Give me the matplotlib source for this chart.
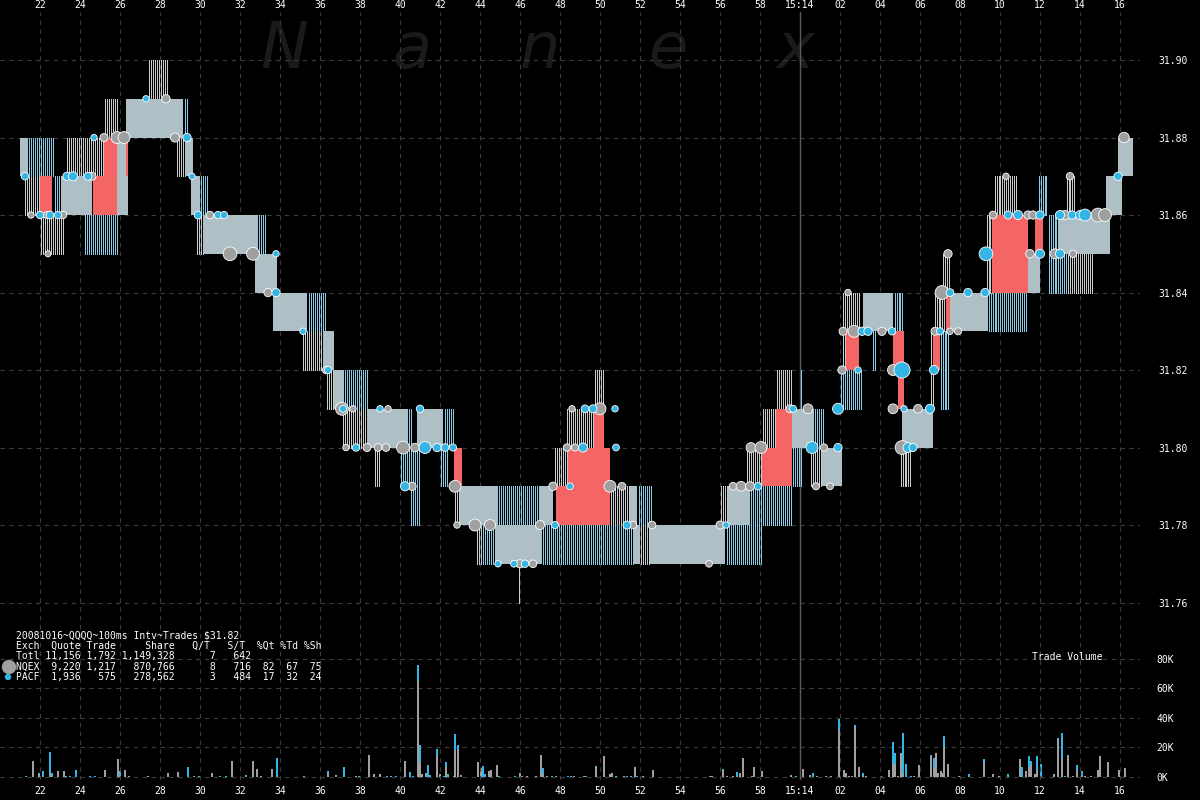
import numpy as np
import matplotlib.pyplot as plt
from matplotlib.patches import Rectangle, Ellipse
from matplotlib.collections import LineCollection

# time axis = seconds after 15:13:00, 100ms intervals
# quote blocks: (start, end, bid/low, ask/high)
quote_blocks = [
    (21.0, 21.4, 31.87, 31.88), (23.05, 24.6, 31.86, 31.87), (25.85, 26.4, 31.86, 31.88),
    (26.3, 29.15, 31.88, 31.89), (29.25, 29.65, 31.87, 31.88), (29.55, 30.0, 31.86, 31.87),
    (30.15, 32.9, 31.85, 31.86), (32.75, 33.85, 31.84, 31.85), (33.65, 35.35, 31.83, 31.84),
    (36.15, 36.7, 31.82, 31.83), (36.7, 37.2, 31.81, 31.82), (38.35, 40.4, 31.80, 31.81),
    (40.85, 42.15, 31.80, 31.81), (43.0, 44.9, 31.78, 31.79), (47.0, 47.65, 31.78, 31.79),
    (44.75, 47.1, 31.77, 31.78), (51.65, 52.0, 31.77, 31.78), (52.5, 56.25, 31.77, 31.78),
    (51.5, 51.85, 31.78, 31.79), (56.4, 57.5, 31.78, 31.79), (59.6, 60.7, 31.80, 31.81),
    (61.1, 62.1, 31.79, 31.80), (63.15, 64.65, 31.83, 31.84), (65.1, 66.65, 31.80, 31.81),
    (67.5, 69.4, 31.83, 31.84), (71.4, 72.0, 31.84, 31.85), (72.9, 75.5, 31.85, 31.86),
    (75.3, 76.1, 31.86, 31.87), (75.9, 76.65, 31.87, 31.88),
]
# quote flicker ranges (NQEX grey, PACF blue)
nq_flicker = [
    (21.2, 22.0, 31.86, 31.87), (22.0, 23.15, 31.85, 31.86), (23.3, 25.15, 31.87, 31.88),
    (25.2, 25.85, 31.88, 31.89), (27.4, 28.35, 31.89, 31.90), (28.8, 29.25, 31.87, 31.88),
    (29.8, 30.15, 31.85, 31.86), (35.1, 36.15, 31.82, 31.83), (36.3, 36.7, 31.81, 31.82),
    (37.1, 38.35, 31.80, 31.81), (38.7, 39.0, 31.79, 31.80), (42.7, 43.0, 31.78, 31.79),
    (43.8, 44.05, 31.77, 31.78), (45.85, 45.95, 31.76, 31.77), (47.7, 48.4, 31.79, 31.80),
    (48.3, 49.7, 31.80, 31.81), (49.7, 50.15, 31.81, 31.82), (50.5, 51.5, 31.78, 31.79),
    (52.0, 52.5, 31.77, 31.78), (56.0, 56.4, 31.78, 31.79), (57.3, 58.1, 31.79, 31.80),
    (58.1, 58.8, 31.80, 31.81), (58.8, 59.55, 31.81, 31.82), (60.5, 61.1, 31.79, 31.80),
    (62.1, 62.3, 31.82, 31.84), (62.2, 63.0, 31.83, 31.84), (65.0, 65.55, 31.79, 31.80),
    (66.5, 66.65, 31.81, 31.83), (66.65, 67.3, 31.83, 31.84), (67.1, 67.5, 31.84, 31.85),
    (69.25, 69.7, 31.84, 31.86), (69.65, 70.9, 31.86, 31.87), (73.25, 73.75, 31.86, 31.87),
    (72.4, 74.7, 31.84, 31.85),
]
pa_flicker = [
    (21.4, 22.65, 31.87, 31.88), (22.65, 23.05, 31.86, 31.87), (24.15, 25.85, 31.85, 31.86),
    (29.15, 29.4, 31.88, 31.89), (30.0, 30.4, 31.86, 31.87), (32.9, 33.25, 31.85, 31.86),
    (35.35, 36.3, 31.83, 31.84), (37.2, 38.4, 31.81, 31.82), (40.4, 40.6, 31.80, 31.81),
    (42.15, 42.7, 31.80, 31.81), (40.0, 41.0, 31.79, 31.80), (40.5, 41.0, 31.78, 31.79),
    (42.0, 42.35, 31.79, 31.80), (44.9, 47.0, 31.78, 31.79), (44.05, 44.75, 31.77, 31.78),
    (47.1, 51.65, 31.77, 31.78), (51.85, 52.6, 31.78, 31.79), (56.25, 58.1, 31.77, 31.78),
    (57.5, 59.6, 31.78, 31.79), (59.6, 60.1, 31.79, 31.80), (60.7, 61.2, 31.80, 31.81),
    (62.0, 63.1, 31.81, 31.82), (63.6, 63.8, 31.82, 31.83), (64.65, 65.2, 31.83, 31.84),
    (67.0, 67.5, 31.81, 31.83), (69.4, 71.4, 31.83, 31.84), (71.85, 72.4, 31.86, 31.87),
    (72.35, 73.35, 31.84, 31.86), (60.0, 60.05, 31.81, 31.82), (61.95, 62.0, 31.80, 31.81),
    (52.55, 52.6, 31.79, 31.80), (74.65, 74.7, 31.84, 31.87),
]
# locked / crossed quotes
crossed = [
    (22.0, 22.6, 31.86, 31.87), (24.65, 25.85, 31.86, 31.87), (25.2, 25.85, 31.87, 31.88),
    (26.3, 26.4, 31.87, 31.88), (42.7, 43.1, 31.79, 31.80), (47.8, 50.5, 31.78, 31.79),
    (48.4, 50.5, 31.79, 31.80), (49.7, 50.2, 31.80, 31.81), (58.1, 59.6, 31.79, 31.80),
    (58.8, 59.6, 31.80, 31.81), (62.3, 62.95, 31.82, 31.83), (64.65, 65.2, 31.82, 31.83),
    (64.9, 65.2, 31.81, 31.82), (66.65, 67.0, 31.82, 31.83), (67.3, 67.5, 31.83, 31.84),
    (69.6, 71.4, 31.84, 31.86), (71.75, 72.15, 31.85, 31.86),
]

# trades: (time, price, shares)
nq_trades = [
    (24.6, 31.87, 800), (21.55, 31.86, 300), (22.35, 31.86, 500), (23.15, 31.86, 600),
    (22.4, 31.85, 200), (25.2, 31.88, 800), (25.85, 31.88, 2500), (26.2, 31.88, 2500),
    (28.75, 31.88, 1200), (28.3, 31.89, 900), (30.5, 31.86, 600), (31.5, 31.85, 3500),
    (32.65, 31.85, 3000), (33.4, 31.84, 900), (36.3, 31.82, 600), (37.1, 31.81, 3000),
    (37.65, 31.81, 300), (39.4, 31.81, 300), (37.3, 31.80, 300), (38.35, 31.80, 800),
    (38.9, 31.80, 700), (39.3, 31.80, 700), (40.15, 31.80, 3000), (40.75, 31.80, 1000),
    (40.6, 31.79, 900), (42.75, 31.79, 2500), (42.85, 31.78, 300), (43.75, 31.78, 2500),
    (44.5, 31.78, 2000), (47.0, 31.78, 1200), (46.0, 31.77, 900), (46.65, 31.77, 700),
    (48.6, 31.81, 300), (50.0, 31.81, 2500), (48.35, 31.80, 600), (48.75, 31.80, 500),
    (47.65, 31.79, 900), (50.5, 31.79, 2500), (51.1, 31.79, 700), (51.65, 31.78, 600),
    (52.6, 31.78, 700), (55.45, 31.77, 400), (56.0, 31.78, 800), (56.65, 31.79, 700),
    (57.05, 31.79, 1500), (57.5, 31.79, 1200), (57.55, 31.80, 1500), (58.05, 31.80, 2500),
    (59.5, 31.81, 800), (60.4, 31.81, 1500), (61.2, 31.80, 600), (60.8, 31.79, 500),
    (61.5, 31.79, 400), (62.4, 31.84, 300), (62.15, 31.83, 800), (62.7, 31.83, 2500),
    (64.1, 31.83, 900), (62.1, 31.82, 900), (64.65, 31.82, 2000), (64.65, 31.81, 1500),
    (65.9, 31.81, 1000), (65.1, 31.80, 3500), (67.1, 31.84, 3500), (66.75, 31.83, 800),
    (67.5, 31.83, 300), (67.9, 31.83, 500), (67.4, 31.85, 900), (69.65, 31.86, 700),
    (71.4, 31.86, 900), (71.65, 31.86, 900), (73.25, 31.86, 1200), (74.9, 31.86, 3500),
    (75.25, 31.86, 3000), (70.3, 31.87, 300), (73.5, 31.87, 600), (71.5, 31.85, 1000),
    (72.75, 31.85, 1500), (73.65, 31.85, 600), (76.2, 31.88, 1800),
]
pa_trades = [
    (21.25, 31.87, 600), (23.35, 31.87, 900), (23.65, 31.87, 1200), (24.4, 31.87, 800),
    (22.0, 31.86, 600), (22.5, 31.86, 700), (22.9, 31.86, 600), (24.7, 31.88, 300),
    (29.35, 31.88, 900), (27.3, 31.89, 300), (29.6, 31.87, 300), (29.9, 31.86, 700),
    (30.9, 31.86, 600), (31.2, 31.86, 600), (33.8, 31.85, 300), (33.8, 31.84, 900),
    (35.15, 31.83, 300), (36.4, 31.82, 500), (37.15, 31.81, 500), (39.0, 31.81, 300),
    (41.0, 31.81, 600), (37.8, 31.80, 600), (41.25, 31.80, 2500), (41.85, 31.80, 900),
    (42.25, 31.80, 700), (42.65, 31.80, 500), (40.25, 31.79, 1200), (47.75, 31.78, 500),
    (44.9, 31.77, 300), (45.7, 31.77, 400), (46.25, 31.77, 600), (49.25, 31.81, 700),
    (49.65, 31.81, 800), (50.75, 31.81, 300), (49.15, 31.80, 1200), (50.8, 31.80, 400),
    (48.5, 31.79, 400), (51.35, 31.78, 800), (56.3, 31.78, 300), (57.9, 31.79, 600),
    (59.65, 31.81, 500), (60.6, 31.80, 2500), (61.9, 31.80, 900), (61.9, 31.81, 2000),
    (63.1, 31.83, 900), (63.4, 31.83, 900), (64.6, 31.83, 600), (62.9, 31.82, 300),
    (65.1, 31.82, 5000), (65.2, 31.81, 300), (66.5, 31.81, 1200), (65.4, 31.80, 1500),
    (65.65, 31.80, 800), (66.7, 31.82, 1200), (67.5, 31.84, 700), (67.0, 31.83, 500),
    (69.3, 31.85, 3500), (68.4, 31.84, 900), (69.25, 31.84, 900), (70.4, 31.86, 800),
    (70.9, 31.86, 1200), (72.0, 31.86, 900), (73.0, 31.86, 1200), (73.6, 31.86, 900),
    (74.0, 31.86, 1200), (74.25, 31.86, 2500), (75.9, 31.87, 900), (72.0, 31.85, 1200),
    (73.0, 31.85, 1200),
]

# volume per 100ms interval, thousands of shares: (time, NQEX, PACF)
volume = [
    (21.25, 0, 1), (21.6, 10.6, 0), (21.9, 2, 1), (22.1, 0, 4), (22.45, 3, 14),
    (22.55, 0, 3), (22.85, 4, 0), (23.15, 4, 0), (23.25, 0, 1), (23.45, 0, 1),
    (23.75, 0, 5), (24.45, 0, 1), (24.7, 0, 1), (25.2, 5, 0), (25.85, 12, 0),
    (25.95, 0, 4), (26.2, 5, 0), (26.4, 0.5, 0), (27.35, 0.5, 0), (28.35, 3, 0),
    (28.85, 3.5, 0), (29.35, 0, 7), (29.65, 0.5, 0), (29.9, 0, 1), (30.55, 3, 0),
    (30.95, 0, 0.5), (31.25, 0, 0.5), (31.55, 11, 0), (32.25, 0, 1.5), (32.6, 10.6, 0),
    (32.8, 5.6, 0), (33.0, 0.5, 0), (33.55, 5.6, 0), (33.8, 0, 13), (35.15, 0, 0.5),
    (36.35, 3, 1), (36.75, 1.5, 0), (37.15, 0, 7), (37.75, 0.5, 0), (37.9, 0, 0.5),
    (38.4, 15, 0), (38.65, 2, 0), (38.95, 2, 0), (39.3, 0, 0.5), (39.5, 0.5, 0),
    (39.75, 0, 0.5), (40.2, 11, 0), (40.45, 0, 3.6), (40.6, 0, 0.5), (40.85, 65, 11),
    (40.95, 10, 12), (41.05, 2, 0), (41.25, 3, 0), (41.35, 0, 8), (41.45, 0, 1.5),
    (41.8, 14, 5), (41.95, 2, 0), (42.15, 0, 0.5), (42.25, 7, 3), (42.35, 0, 2),
    (42.65, 0.5, 0), (42.7, 18, 11), (42.85, 18, 4), (43.0, 1.6, 0), (43.85, 10, 0),
    (44.0, 6, 0), (44.1, 0, 7.7), (44.2, 0, 2), (44.4, 4, 0), (44.5, 5, 0),
    (44.8, 8, 0), (44.9, 0, 0.5), (45.7, 0, 0.5), (45.95, 3, 0), (46.05, 0.5, 0),
    (46.3, 0.5, 0), (46.75, 0.5, 0), (47.0, 15, 0), (47.1, 2, 4), (47.3, 0.5, 0),
    (47.55, 0, 0.5), (47.75, 0.5, 0), (48.35, 0, 0.5), (48.5, 0, 0.5), (48.65, 0.5, 0.5),
    (49.15, 0.5, 0), (49.25, 0, 1), (49.75, 7, 0.5), (50.15, 14, 0), (50.45, 2, 0),
    (50.55, 3, 0), (50.75, 0, 0.5), (51.15, 0.5, 0), (51.3, 0, 0.5), (51.5, 0.5, 0),
    (51.7, 7, 0), (51.8, 0, 0.5), (52.1, 0.5, 0), (52.6, 5, 0), (55.45, 0.5, 0),
    (55.55, 0.5, 0), (56.1, 5, 0.5), (56.3, 0.5, 0), (56.6, 0.5, 0), (56.8, 1, 2.5),
    (56.95, 3, 0), (57.1, 13, 0), (57.55, 0, 0.5), (57.65, 7, 0), (58.05, 4, 0),
    (59.5, 1.5, 0), (59.75, 0, 0.5), (60.1, 5.5, 0), (60.45, 1.5, 0), (60.6, 0, 3),
    (60.8, 0.5, 0), (61.25, 0.5, 0), (61.5, 0.5, 0), (61.9, 32, 7), (62.15, 5, 0),
    (62.25, 2.5, 0), (62.4, 0.5, 0), (62.55, 0.5, 0), (62.7, 34, 1), (62.9, 6.5, 0),
    (63.1, 1, 2), (63.25, 0.5, 0), (64.0, 0.5, 0), (64.4, 5, 0), (64.6, 9, 15),
    (64.7, 9, 7), (64.85, 0.5, 0), (65.0, 16, 0), (65.1, 2, 28), (65.25, 0, 9),
    (65.5, 0, 0.5), (65.65, 0.5, 0), (65.9, 8, 0), (66.5, 14, 1), (66.65, 6, 7),
    (66.75, 16, 0), (66.85, 3, 0), (67.0, 4, 0), (67.1, 3, 0), (67.15, 20, 8),
    (67.35, 8, 1), (67.9, 0.5, 0), (68.4, 0, 2), (69.15, 10, 2), (69.6, 2, 0),
    (69.9, 0.5, 0), (70.35, 0, 2), (70.95, 12, 0), (71.05, 0, 7), (71.25, 4, 0),
    (71.4, 7, 7), (71.5, 8, 3), (71.7, 2, 0), (71.8, 4, 10), (72.0, 0, 9),
    (72.65, 2, 0), (72.85, 26, 0.5), (73.05, 13, 17), (73.2, 0, 0.5), (73.35, 14, 1),
    (73.6, 0.5, 0), (73.8, 5, 3), (74.05, 1, 3), (74.2, 0.5, 0), (74.5, 0.5, 0),
    (74.85, 5, 0), (74.95, 14, 0), (75.35, 10, 0), (75.9, 5, 0), (76.2, 6, 0),
]

summary_lines = [
    "20081016~QQQQ~100ms Intv~Trades $31.82",
    "Exch  Quote Trade     Share   Q/T   S/T  %Qt %Td %Sh",
    "Totl 11,156 1,792 1,149,328      7   642",
    "NQEX  9,220 1,217   870,766      8   716  82  67  75",
    "PACF  1,936   575   278,562      3   484  17  32  24",
]

price_ticks = [31.76, 31.78, 31.80, 31.82, 31.84, 31.86, 31.88, 31.90]
vol_ticks = [0, 20000, 40000, 60000, 80000]
time_ticks = list(range(22, 77, 2))

GREY = '#a0a0a0'
BLUE = '#33b5e5'
SKY = '#8ccbe6'
LGREY = '#c8cacb'
SOLID = '#aec0c6'
RED = '#f46666'
GRID = '#3c3c3c'
MONO = 'DejaVu Sans Mono'

fig = plt.figure(figsize=(12, 8), dpi=100, facecolor='black')
rect = [0, 20 / 800, 0.95, 768 / 800]
ax = fig.add_axes(rect, facecolor='black')
axv = fig.add_axes(rect, facecolor='none', sharex=ax)
ax.set_zorder(2)
ax.patch.set_visible(False)
axv.set_zorder(1)

# watermark
for i, ch in enumerate("Nanex"):
    fig.text((284 + i * 128) / 1200, 1 - 50 / 800, ch, color='#1a1a1a', fontsize=46,
             style='italic', ha='center', va='center', family='DejaVu Sans', zorder=0)

ax.set_xlim(20, 77)
ax.set_ylim(31.7142, 31.9124)
axv.set_ylim(-2034, 518644)


def stripes(blocks, color, step=0.1):
    segs = []
    for t0, t1, lo, hi in blocks:
        for t in np.arange(np.ceil(t0 / step - 1e-6) * step, t1 - 1e-6, step):
            segs.append([(t + 0.025, lo), (t + 0.025, hi)])
    ax.add_collection(LineCollection(segs, colors=color, linewidths=0.72,
                                     antialiaseds=False, zorder=2))


stripes(nq_flicker, LGREY)
stripes(pa_flicker, SKY)
for t0, t1, lo, hi in quote_blocks:
    ax.add_patch(Rectangle((t0, lo), t1 - t0, hi - lo, facecolor=SOLID, edgecolor='none',
                           zorder=3))
for t0, t1, lo, hi in crossed:
    ax.add_patch(Rectangle((t0, lo), t1 - t0, hi - lo, facecolor=RED, edgecolor='none',
                           zorder=4))

ax.axvline(60, color='#5a5a5a', lw=1, zorder=1)


def dots(trades, color):
    t = np.array([d[0] for d in trades])
    p = np.array([d[1] for d in trades])
    sh = np.array([d[2] for d in trades])
    ax.scatter(t, p, s=14 + sh * 0.024, c=color, edgecolors='white', linewidths=0.6,
               zorder=6)


dots(nq_trades, GREY)
dots(pa_trades, BLUE)

# volume bars
vt = np.array([v[0] for v in volume])
vn = np.array([v[1] for v in volume]) * 1000
vp = np.array([v[2] for v in volume]) * 1000
axv.bar(vt, vn, width=0.12, color=GREY, align='edge', zorder=3)
axv.bar(vt, vp, width=0.12, bottom=vn, color=BLUE, align='edge', zorder=3)

# grids / ticks
for a in (ax, axv):
    for s in a.spines.values():
        s.set_visible(False)
ax.set_yticks(price_ticks)
ax.set_yticklabels([f"{p:.2f}" for p in price_ticks])
axv.set_yticks(vol_ticks)
axv.set_yticklabels([f"{v // 1000}K" for v in vol_ticks])
ax.set_xticks(time_ticks)
labels = [f"{t}" if t < 60 else ("15:14" if t == 60 else f"{t - 60:02d}") for t in time_ticks]
ax.set_xticklabels(labels)

ax.tick_params(axis='y', left=False, right=True, labelleft=False, labelright=True,
               length=0, pad=13, labelcolor='white', labelsize=7)
axv.tick_params(axis='y', left=False, right=True, labelleft=False, labelright=True,
                length=0, pad=12, labelcolor='white', labelsize=7)
ax.tick_params(axis='x', bottom=True, top=False, labelbottom=True, labeltop=False,
               length=0, pad=4, labelcolor='white', labelsize=7)
axv.tick_params(axis='x', bottom=False, top=True, labelbottom=False, labeltop=True,
                length=0, pad=1.5, labelcolor='white', labelsize=7)
for a in (ax, axv):
    for lab in a.get_xticklabels() + a.get_yticklabels():
        lab.set_family(MONO)

ax.grid(True, axis='both', color=GRID, lw=0.8, ls=(0, (4, 4)), zorder=0)
axv.grid(True, axis='y', color=GRID, lw=0.8, ls=(0, (4, 4)), zorder=0)
ax.set_axisbelow(True)

# summary table
for i, line in enumerate(summary_lines):
    fig.text(16 / 1200, 1 - (636 + i * 10.2) / 800, line, color='white', fontsize=7,
             family=MONO, va='center', ha='left')
fig.text(1032 / 1200, 1 - 657 / 800, "Trade Volume", color='white', fontsize=7,
         family=MONO, va='center', ha='left')
fig.add_artist(Ellipse((9 / 1200, 1 - 667 / 800), 13 / 1200, 13 / 800, color=GREY,
                       transform=fig.transFigure))
fig.add_artist(Ellipse((8 / 1200, 1 - 677 / 800), 5 / 1200, 5 / 800, color=BLUE,
                       transform=fig.transFigure))

fig.savefig('out.png', dpi=100, facecolor='black')
